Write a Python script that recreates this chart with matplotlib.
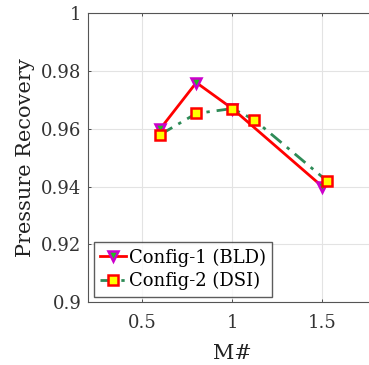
import matplotlib
matplotlib.use("Agg")
import matplotlib.pyplot as plt

x1 = [0.6, 0.8, 1.0, 1.5]
y1 = [0.960, 0.976, 0.967, 0.940]
x2 = [0.6, 0.8, 1.0, 1.12, 1.525]
y2 = [0.958, 0.9653, 0.967, 0.9632, 0.942]
xticks = [0.5, 1, 1.5]
xticklabels = ["0.5", "1", "1.5"]
yticks = [0.9, 0.92, 0.94, 0.96, 0.98, 1.0]
yticklabels = ["0.9", "0.92", "0.94", "0.96", "0.98", "1"]

plt.rcParams['font.family'] = ['DejaVu Serif']
fig = plt.figure(figsize=(3.69, 3.65), dpi=100)
W, H = 369, 365
left, right, top, bottom = 88.3, 376.3, 13.3, 302.0
ax = fig.add_axes([left / W, 1 - bottom / H, (right - left) / W, (bottom - top) / H])

ax.plot(x1, y1, color='red', lw=2, marker='v', markersize=7.5,
        markerfacecolor='#22bb22', markeredgecolor='#cc00cc', markeredgewidth=1.8,
        label='Config-1 (BLD)', zorder=3)
ax.plot(x2, y2, color='#2e8b57', lw=2, ls=(0, (5, 2.5, 1.2, 2.5)), marker='s', markersize=6.5,
        markerfacecolor='yellow', markeredgecolor='red', markeredgewidth=1.8,
        label='Config-2 (DSI)', zorder=4)

ax.set_xlim(0.2, 1.8)
ax.set_ylim(0.9, 1.0)
ax.set_xticks(xticks)
ax.set_xticklabels(xticklabels)
ax.set_yticks(yticks)
ax.set_yticklabels(yticklabels)
ax.tick_params(labelsize=13, length=2.5, width=0.6, direction='in',
               colors='#333333', top=True, right=True)
ax.tick_params(axis='x', pad=9)
ax.tick_params(axis='y', pad=5)
ax.grid(True, color='#e3e3e3', lw=0.8)
ax.set_axisbelow(True)
for s in ax.spines.values():
    s.set_color('#555555')
    s.set_linewidth(0.8)
ax.set_xlabel('M#', fontsize=15, color='#222222', labelpad=8)
ax.set_ylabel('Pressure Recovery', fontsize=15, color='#222222', labelpad=4)

leg = ax.legend(loc='lower left', fontsize=13, frameon=True, fancybox=False,
                handlelength=1.45, handletextpad=0.15, borderpad=0.35,
                labelspacing=0.3, borderaxespad=0.3)
leg.get_frame().set_edgecolor('#333333')
leg.get_frame().set_linewidth(1.0)

fig.savefig('out.png', dpi=100)
